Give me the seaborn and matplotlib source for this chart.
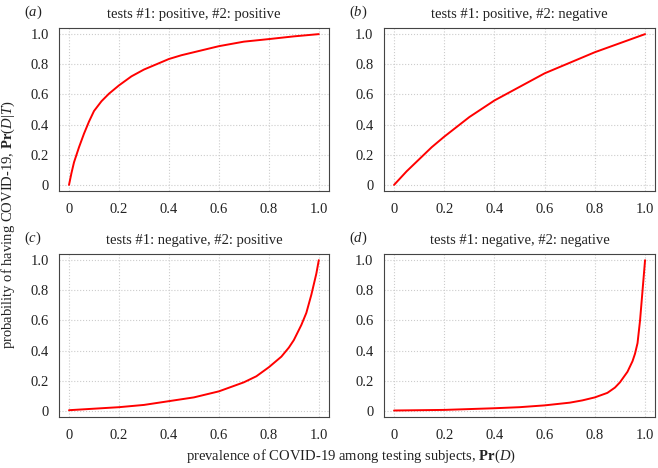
import numpy as np
import pandas as pd
import matplotlib
matplotlib.use('Agg')
import matplotlib.pyplot as plt
import seaborn as sns

# values
prev_a = [0, 0.01, 0.02, 0.04, 0.06, 0.08, 0.1, 0.13, 0.16, 0.2, 0.25, 0.3, 0.35, 0.4, 0.45, 0.5, 0.6, 0.7, 0.8, 0.9, 1.0]
post_a = [0, 0.08, 0.15, 0.25, 0.34, 0.42, 0.49, 0.555, 0.605, 0.66, 0.72, 0.765, 0.80, 0.835, 0.86, 0.88, 0.92, 0.95, 0.967, 0.985, 1.0]

prev_b = [0, 0.05, 0.1, 0.15, 0.2, 0.3, 0.4, 0.5, 0.6, 0.7, 0.8, 0.9, 1.0]
post_b = [0, 0.09, 0.17, 0.25, 0.32, 0.45, 0.56, 0.65, 0.74, 0.81, 0.88, 0.94, 1.0]

prev_c = [0, 0.1, 0.2, 0.3, 0.4, 0.5, 0.6, 0.7, 0.75, 0.8, 0.85, 0.88, 0.9, 0.93, 0.95, 0.97, 0.99, 1.0]
post_c = [0.005, 0.015, 0.025, 0.04, 0.065, 0.09, 0.13, 0.19, 0.23, 0.29, 0.36, 0.42, 0.47, 0.57, 0.65, 0.77, 0.91, 1.0]

prev_d = [0, 0.2, 0.4, 0.5, 0.6, 0.7, 0.75, 0.8, 0.85, 0.88, 0.9, 0.93, 0.95, 0.96, 0.97, 0.98, 0.99, 1.0]
post_d = [0.003, 0.007, 0.018, 0.025, 0.037, 0.055, 0.07, 0.09, 0.12, 0.155, 0.19, 0.26, 0.33, 0.38, 0.45, 0.6, 0.8, 1.0]

panels = ['a', 'b', 'c', 'd']
titles = ['tests #1: positive, #2: positive', 'tests #1: positive, #2: negative',
          'tests #1: negative, #2: positive', 'tests #1: negative, #2: negative']
ticks = [0, 0.2, 0.4, 0.6, 0.8, 1.0]
tick_labels = ['0', '0.2', '0.4', '0.6', '0.8', '1.0']

sns.set_style('white')
plt.rcParams['font.family'] = ['Liberation Serif', 'DejaVu Serif']
plt.rcParams['mathtext.fontset'] = 'custom'
plt.rcParams['mathtext.rm'] = 'Liberation Serif'
plt.rcParams['mathtext.it'] = 'Liberation Serif:italic'
plt.rcParams['mathtext.bf'] = 'Liberation Serif:bold'

fig = plt.figure(figsize=(6.58, 4.68), dpi=100)
boxes = [[0.0897, 0.592, 0.410, 0.348], [0.5836, 0.592, 0.412, 0.348],
         [0.0897, 0.109, 0.410, 0.348], [0.5836, 0.109, 0.412, 0.348]]
curves = [(prev_a, post_a), (prev_b, post_b), (prev_c, post_c), (prev_d, post_d)]

for i, (box, (xs, ys)) in enumerate(zip(boxes, curves)):
    ax = fig.add_axes(box)
    df = pd.DataFrame({'prevalence': xs, 'posterior': ys})
    sns.lineplot(data=df, x='prevalence', y='posterior', ax=ax, color='#ff0000', lw=1.4)
    ax.set_xlim(-0.04, 1.04)
    ax.set_ylim(-0.04, 1.04)
    ax.set_xticks(ticks)
    ax.set_xticklabels(tick_labels)
    ax.set_yticks(ticks)
    ax.set_yticklabels(tick_labels)
    ax.tick_params(labelsize=10.5, length=4, width=0.7, color='#444444',
                   labelcolor='#222222', direction='out')
    ax.tick_params(axis='y', pad=3.5)
    ax.tick_params(axis='x', pad=4.5)
    ax.grid(True, color='#cccccc', ls=':', lw=0.8)
    for s in ax.spines.values():
        s.set_color('#444444')
        s.set_linewidth(0.8)
    ax.set_xlabel('')
    ax.set_ylabel('')
    ax.set_title(titles[i], fontsize=10.5, pad=7, color='#222222')
    ax.text(-0.13, 1.045, '($\\mathit{%s}$)' % panels[i], transform=ax.transAxes,
            fontsize=10.5, ha='left', va='bottom', color='#222222')

fig.text(0.533, 0.026, 'prevalence of COVID-19 among testing subjects, $\\mathbf{Pr}(\\mathit{D})$',
         ha='center', va='center', fontsize=10.5, color='#222222')
fig.text(0.013, 0.52, 'probability of having COVID-19, $\\mathbf{Pr}(\\mathit{D|T})$',
         ha='center', va='center', rotation=90, fontsize=10.5, color='#222222')

fig.savefig('out.png', dpi=100)
